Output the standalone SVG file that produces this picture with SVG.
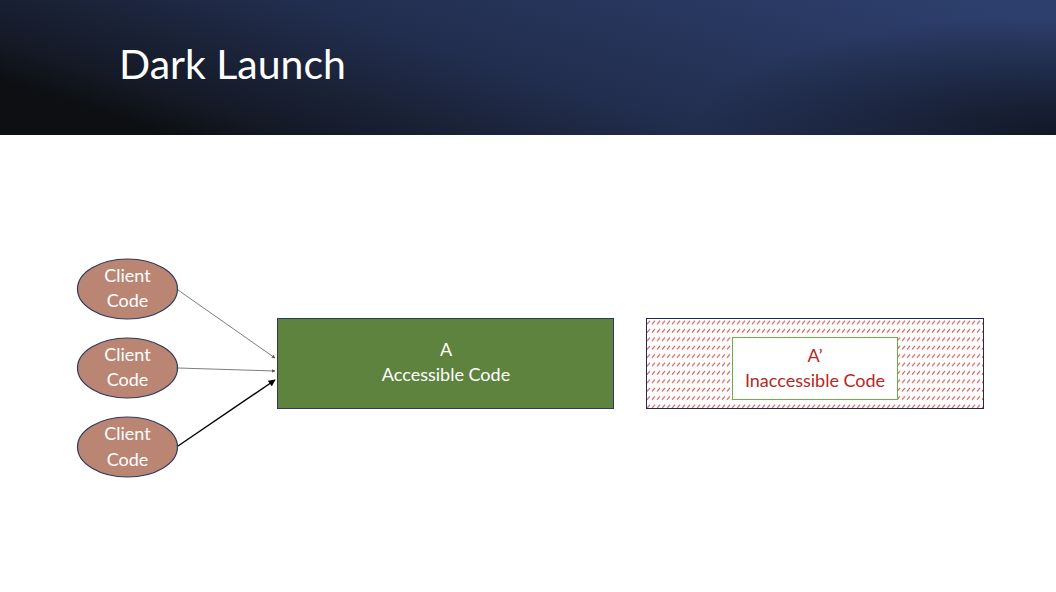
<svg xmlns="http://www.w3.org/2000/svg" width="1056" height="592" viewBox="0 0 1056 592">
  <style>
    .client { fill: #ba8573; stroke: #2f3b5e; stroke-width: 1.2; }
    .lbl { font-family: Lato, "Open Sans", sans-serif; font-size: 18px; text-anchor: middle; }
    .white { fill: #ffffff; }
    .red { fill: #b8271d; }
    .conn { fill: none; }
  </style>
  <defs>
    <linearGradient id="hdr" x1="0" y1="0.6" x2="1" y2="0.2">
      <stop offset="0" stop-color="#0d0f12"/>
      <stop offset="0.1" stop-color="#141925"/>
      <stop offset="0.45" stop-color="#222e4f"/>
      <stop offset="1" stop-color="#2d3f6d"/>
    </linearGradient>
    <radialGradient id="corner" cx="1" cy="1" r="0.35" gradientUnits="objectBoundingBox" gradientTransform="translate(0,0) scale(1,2.5) translate(0,-0.6)">
      <stop offset="0" stop-color="#0e121c" stop-opacity="0.85"/>
      <stop offset="1" stop-color="#0e121c" stop-opacity="0"/>
    </radialGradient>
    <pattern id="hatch" x="646" y="318" width="5" height="8.4" patternUnits="userSpaceOnUse">
      <line x1="1" y1="6.2" x2="4" y2="2.6" stroke="#d2534a" stroke-width="1.1"/>
    </pattern>
    <marker id="ahGray" viewBox="0 0 10 10" refX="9" refY="5" markerWidth="4" markerHeight="4" orient="auto">
      <path d="M0,0 L10,5 L0,10 z" fill="#555555"/>
    </marker>
    <marker id="ahBlack" viewBox="0 0 10 10" refX="9" refY="5" markerWidth="5" markerHeight="5" orient="auto">
      <path d="M0,0 L10,5 L0,10 z" fill="#000000"/>
    </marker>
  </defs>

  <!-- title band -->
  <g id="header">
    <rect x="0" y="0" width="1056" height="135" fill="url(#hdr)"/>
    <rect x="0" y="0" width="1056" height="135" fill="url(#corner)"/>
    <text x="119" y="79" font-family="Lato, 'Open Sans', sans-serif" font-size="41" fill="#ffffff">Dark Launch</text>
  </g>

  <!-- connectors -->
  <g id="connectors" class="conn">
    <line x1="178" y1="290" x2="275" y2="358" stroke="#6e6e6e" stroke-width="0.9" marker-end="url(#ahGray)"/>
    <line x1="178" y1="368" x2="275" y2="371" stroke="#6e6e6e" stroke-width="0.9" marker-end="url(#ahGray)"/>
    <line x1="178" y1="446" x2="275" y2="380" stroke="#000000" stroke-width="1.4" marker-end="url(#ahBlack)"/>
  </g>

  <g id="client1">
    <ellipse class="client" cx="127.5" cy="289" rx="50" ry="30"/>
    <text class="lbl white" x="127.5" y="282">Client</text>
    <text class="lbl white" x="127.5" y="307">Code</text>
  </g>
  <g id="client2">
    <ellipse class="client" cx="127.5" cy="368" rx="50" ry="30"/>
    <text class="lbl white" x="127.5" y="361">Client</text>
    <text class="lbl white" x="127.5" y="386">Code</text>
  </g>
  <g id="client3">
    <ellipse class="client" cx="127.5" cy="447" rx="50" ry="30"/>
    <text class="lbl white" x="127.5" y="440">Client</text>
    <text class="lbl white" x="127.5" y="466">Code</text>
  </g>

  <g id="accessible">
    <rect x="277.5" y="318.5" width="336" height="90" fill="#5d833e" stroke="#2f3b5e" stroke-width="1"/>
    <text class="lbl white" x="446" y="356">A</text>
    <text class="lbl white" x="446" y="381">Accessible Code</text>
  </g>

  <g id="inaccessible">
    <rect x="646.5" y="318.5" width="337" height="90" fill="url(#hatch)" stroke="#1f2a4a" stroke-width="1"/>
    <rect x="732.5" y="337.5" width="165" height="62" fill="#ffffff" stroke="#70ad47" stroke-width="1"/>
    <text class="lbl red" x="815" y="362">A’</text>
    <text class="lbl red" x="815" y="387">Inaccessible Code</text>
  </g>
</svg>
